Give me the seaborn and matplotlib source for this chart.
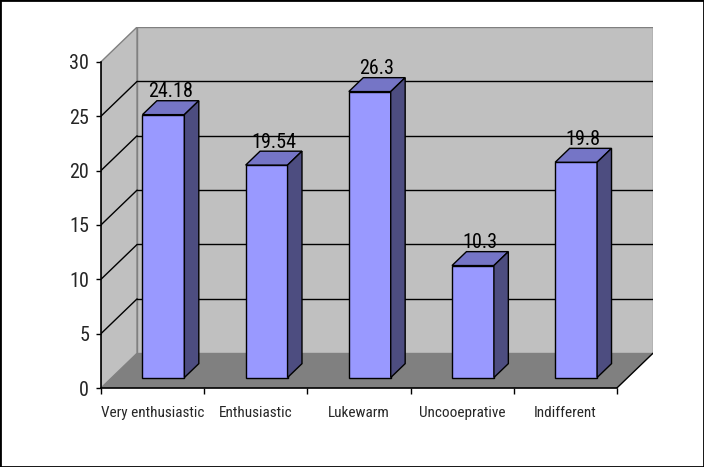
import matplotlib
matplotlib.use("Agg")
import matplotlib.pyplot as plt
from matplotlib import font_manager
from matplotlib.patches import Polygon, Rectangle
import seaborn as sns
import pandas as pd

categories = ["Very enthusiastic", "Enthusiastic", "Lukewarm", "Uncooeprative", "Indifferent"]
values = [24.18, 19.54, 26.3, 10.3, 19.8]
value_labels = ["24.18", "19.54", "26.3", "10.3", "19.8"]
y_ticks = [0, 5, 10, 15, 20, 25, 30]

sns.set_theme(style="white")


def has_font(name):
    try:
        font_manager.findfont(font_manager.FontProperties(family=name), fallback_to_default=False)
        return True
    except ValueError:
        return False


narrow = next((f for f in ["Liberation Sans Narrow", "Roboto Condensed", "Arial Narrow"] if has_font(f)), None)
if narrow:
    plt.rcParams["font.family"] = [narrow, "Liberation Sans", "DejaVu Sans"]
    num_size, cat_size = 14.5, 11
else:
    plt.rcParams["font.family"] = ["Liberation Sans", "DejaVu Sans"]
    num_size, cat_size = 14, 10.5

W, H, DPI = 704, 467, 100
fig = plt.figure(figsize=(W / DPI, H / DPI), dpi=DPI, facecolor="white")

# depth of the pseudo-3D box in data units (x: categories, y: values)
DX, DY = 0.35, 3.2
YMAX = 30
ax = fig.add_axes([101 / W, (H - 388) / H, 552 / W, 361 / H])
ax.patch.set_alpha(0)

n = len(categories)
x0, x1 = -0.5, n - 0.5

# walls and floor
wall_c, floor_c, edge_c = "#C0C0C0", "#808080", "#808080"
ax.add_patch(Polygon([(x0, 0), (x0 + DX, DY), (x0 + DX, YMAX + DY), (x0, YMAX)],
                     closed=True, facecolor=wall_c, edgecolor=edge_c, lw=1, zorder=0.2))
ax.add_patch(Rectangle((x0 + DX, DY), x1 - x0, YMAX, facecolor=wall_c,
                       edgecolor=edge_c, lw=1, zorder=0.2))
ax.add_patch(Polygon([(x0, 0), (x1, 0), (x1 + DX, DY), (x0 + DX, DY)],
                     closed=True, facecolor=floor_c, edgecolor="none", zorder=0.3))
ax.plot([x1, x1 + DX], [0, DY], color="black", lw=1, zorder=0.4)

# gridlines on back wall and left wall
for v in y_ticks[1:-1]:
    ax.plot([x0 + DX, x1 + DX], [v + DY, v + DY], color="black", lw=1, zorder=0.4)
    ax.plot([x0, x0 + DX], [v, v + DY], color="black", lw=1, zorder=0.4)

df = pd.DataFrame({"category": categories, "value": values})
bar_w = 0.406
sns.barplot(data=df, x="category", y="value", color="#9999FF", saturation=1,
            width=bar_w, edgecolor="black", linewidth=1, ax=ax, zorder=2)

ax.set_xlim(x0, x1 + DX)
ax.set_ylim(0, YMAX + DY)

# shift the front faces into the middle of the box depth and add top/side faces
f0, f1 = 0.3, 0.7
top_c, side_c = "#7575C6", "#4D4D80"
for p, lab in zip(ax.patches[-n:], value_labels):
    bx = p.get_x() + f0 * DX
    by = f0 * DY
    h = p.get_height()
    w = p.get_width()
    p.set_x(bx)
    p.set_y(by)
    ddx, ddy = (f1 - f0) * DX, (f1 - f0) * DY
    ax.add_patch(Polygon([(bx, by + h), (bx + w, by + h), (bx + w + ddx, by + h + ddy),
                          (bx + ddx, by + h + ddy)], closed=True, facecolor=top_c,
                         edgecolor="black", lw=1, zorder=2.1))
    ax.add_patch(Polygon([(bx + w, by), (bx + w + ddx, by + ddy), (bx + w + ddx, by + h + ddy),
                          (bx + w, by + h)], closed=True, facecolor=side_c,
                         edgecolor="black", lw=1, zorder=2.1))
    ax.annotate(lab, (bx + w / 2 + ddx / 2, by + h + ddy), xytext=(0, 2.5),
                textcoords="offset points", ha="center", va="baseline",
                fontsize=num_size, color="black", zorder=3)

# axes lines and ticks
for s in ["top", "right"]:
    ax.spines[s].set_visible(False)
ax.spines["left"].set_bounds(0, YMAX)
ax.spines["bottom"].set_bounds(x0, x1)
for s in ["left", "bottom"]:
    ax.spines[s].set_color("black")
    ax.spines[s].set_linewidth(1.2)
    ax.spines[s].set_zorder(2.5)

ax.set_yticks(y_ticks)
ax.set_yticklabels([str(t) for t in y_ticks], fontsize=num_size)
ax.tick_params(axis="y", direction="out", length=3.5, width=1, color="black", pad=5, left=True)
ax.set_xticks(range(n))
ax.set_xticklabels(categories, fontsize=cat_size)
ax.set_xticks([i - 0.5 for i in range(n + 1)], minor=True)
ax.tick_params(axis="x", which="major", length=0, pad=13)
ax.tick_params(axis="x", which="minor", direction="out", length=4, width=1,
               color="black", bottom=True)
ax.set_xlabel("")
ax.set_ylabel("")
ax.grid(False)

fig.add_artist(Rectangle((0, 0), 1, 1, transform=fig.transFigure, fill=False,
                         edgecolor="black", lw=2))

fig.savefig("out.png", dpi=DPI)
